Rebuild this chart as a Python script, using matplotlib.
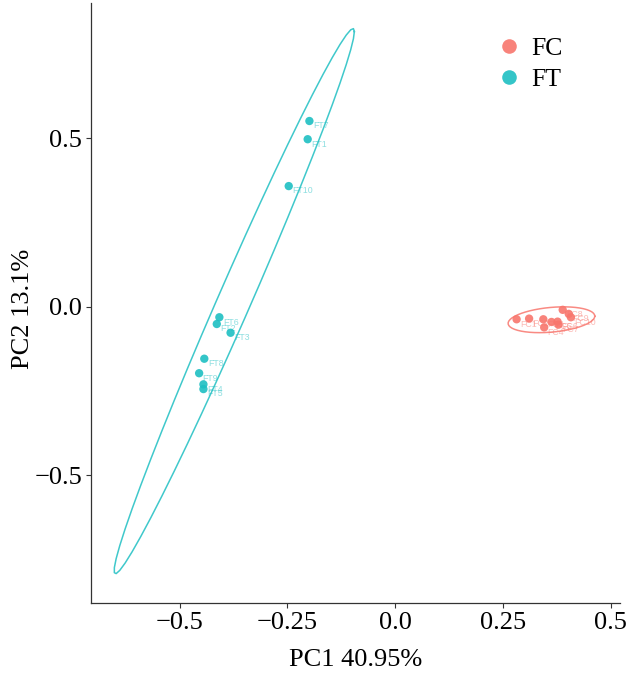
import numpy as np
import matplotlib
matplotlib.use("Agg")
import matplotlib.pyplot as plt
from matplotlib.lines import Line2D

# ---- data ----
groups = ["FC", "FT"]
colors = {"FC": "#F8766D", "FT": "#1EBFC2"}

fc_labels = ["FC1", "FC2", "FC3", "FC4", "FC5", "FC6", "FC7", "FC8", "FC9", "FC10"]
fc_pc1 = [0.282, 0.311, 0.344, 0.346, 0.363, 0.377, 0.379, 0.389, 0.403, 0.408]
fc_pc2 = [-0.037, -0.035, -0.037, -0.061, -0.045, -0.044, -0.053, -0.009, -0.021, -0.031]

ft_labels = ["FT7", "FT1", "FT10", "FT6", "FT2", "FT3", "FT8", "FT9", "FT4", "FT5"]
ft_pc1 = [-0.199, -0.203, -0.247, -0.408, -0.414, -0.382, -0.443, -0.455, -0.445, -0.445]
ft_pc2 = [0.551, 0.497, 0.358, -0.031, -0.051, -0.077, -0.154, -0.197, -0.230, -0.244]

x_ticks = [-0.5, -0.25, 0.0, 0.25, 0.5]
x_tick_labels = ["\u22120.5", "\u22120.25", "0.0", "0.25", "0.5"]
y_ticks = [-0.5, 0.0, 0.5]
y_tick_labels = ["\u22120.5", "0.0", "0.5"]
x_label = "PC1 40.95%"
y_label = "PC2 13.1%"


def cov_trob(x, nu=5, maxit=25, tol=0.01):
    n, p = x.shape
    loc = x.mean(axis=0)
    w = np.ones(n)
    wt = np.ones(n)
    for _ in range(maxit):
        w0 = w.copy()
        X = x - loc
        sX = np.linalg.svd(np.sqrt(w / w.sum())[:, None] * X, full_matrices=False)
        d, vt = sX[1], sX[2]
        wX = X @ vt.T @ np.diag(1.0 / d)
        Q = (wX ** 2).sum(axis=1)
        w = (wt * (nu + p)) / (nu + Q)
        loc = (w[:, None] * x).sum(axis=0) / w.sum()
        if np.all(np.abs(w - w0) < tol):
            break
    X = x - loc
    cov = (np.sqrt(w)[:, None] * X).T @ (np.sqrt(w)[:, None] * X) / wt.sum()
    return loc, cov


def t_ellipse(xs, ys, level=0.95, segments=51):
    data = np.column_stack([xs, ys])
    n = len(xs)
    center, shape = cov_trob(data)
    dfn, dfd = 2, n - 1
    fq = (dfd / 2.0) * ((1 - level) ** (-2.0 / dfd) - 1)  # qf for dfn=2
    radius = np.sqrt(dfn * fq)
    ang = np.linspace(0, 2 * np.pi, segments + 1)
    circle = np.column_stack([np.cos(ang), np.sin(ang)])
    chol = np.linalg.cholesky(shape).T
    pts = center + radius * circle @ chol
    return pts[:, 0], pts[:, 1]


W, H = 633, 679
fig = plt.figure(figsize=(W / 100, H / 100), dpi=100)
ax = fig.add_axes([91 / W, 1 - 602.5 / H, (620 - 91) / W, (602.5 - 3) / H])

serif = "Liberation Serif"
sets = {"FC": (fc_pc1, fc_pc2, fc_labels), "FT": (ft_pc1, ft_pc2, ft_labels)}
for g in groups:
    xs, ys, labs = sets[g]
    ex, ey = t_ellipse(np.array(xs), np.array(ys))
    ax.plot(ex, ey, color=colors[g], lw=1.1, alpha=0.85, zorder=2)
    ax.scatter(xs, ys, s=36, color=colors[g], alpha=0.9, edgecolors="none", zorder=3)
    for xv, yv, lab in zip(xs, ys, labs):
        ax.annotate(lab, (xv, yv), xytext=(2.5, -3.5), textcoords="offset points",
                    fontsize=6.3, color=colors[g], alpha=0.5, ha="left", va="center",
                    family="Liberation Sans", zorder=4)

ax.set_xlim(-0.706, 0.522)
ax.set_ylim(-0.877, 0.901)
ax.set_xticks(x_ticks)
ax.set_xticklabels(x_tick_labels)
ax.set_yticks(y_ticks)
ax.set_yticklabels(y_tick_labels)
for s in ["top", "right"]:
    ax.spines[s].set_visible(False)
for s in ["left", "bottom"]:
    ax.spines[s].set_color("#333333")
    ax.spines[s].set_linewidth(0.9)
ax.tick_params(axis="both", length=3.5, width=0.8, color="#333333",
               labelsize=19, labelcolor="black", pad=3)
for t in ax.get_xticklabels() + ax.get_yticklabels():
    t.set_family(serif)
ax.set_xlabel(x_label, fontsize=19, family=serif)
ax.set_ylabel(y_label, fontsize=19, family=serif)
ax.xaxis.set_label_coords(0.5, (602.5 - 660) / 599.5)
ax.yaxis.set_label_coords((23 - 91) / 529, 0.49)
ax.xaxis.label.set_va("center")
ax.yaxis.label.set_va("center")

handles = [Line2D([0], [0], marker="o", linestyle="none", markersize=10.5,
                  markerfacecolor=colors[g], alpha=0.9, markeredgecolor="none", label=g)
           for g in groups]
leg = ax.legend(handles=handles, loc="upper left", bbox_to_anchor=(494 / W, 1 - 37 / H),
                bbox_transform=fig.transFigure, frameon=False,
                prop={"family": serif, "size": 18.5}, handletextpad=0.25,
                labelspacing=0.3, handlelength=1.2, borderpad=0, borderaxespad=0)

fig.savefig("out.png", dpi=100)
